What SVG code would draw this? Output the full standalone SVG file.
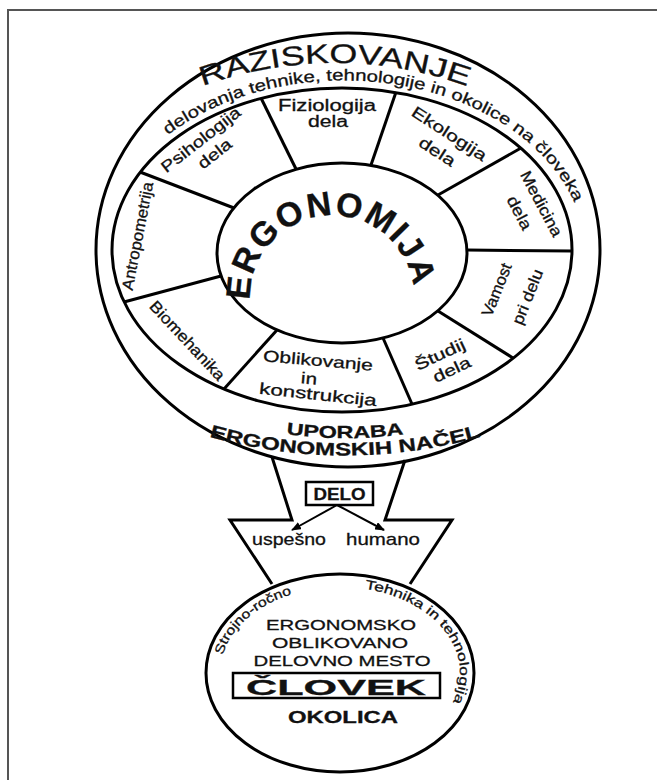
<svg xmlns="http://www.w3.org/2000/svg" width="657" height="780" viewBox="0 0 657 780">
<style>
.s{fill:none;stroke:#000;stroke-width:3}
.t{font-family:"Liberation Sans",Arial,sans-serif;fill:#111;stroke:#111;stroke-width:0.3}
.seg{font-size:16px;text-anchor:middle}
.b{font-weight:bold}
</style>
<defs>
<marker id="ah" markerWidth="10" markerHeight="8" refX="9" refY="4" orient="auto" markerUnits="userSpaceOnUse"><path d="M0,0 L10,4 L0,8 Z" fill="#000"/></marker>
<path id="pRaz" d="M150,110 A388,388 0 0 1 520,110"/>
<path id="pDel" d="M168,135 A242,175 0 0 1 578,212"/>
<path id="pUpo" d="M250,428 A450,450 0 0 0 440,428"/>
<path id="pNac" d="M200,434 A500,500 0 0 0 490,434"/>
<path id="pErg" d="M251,310 A82,82 0 1 1 414,300"/>
<path id="pStr" d="M220,673 A120,86 0 0 1 340,587"/>
<path id="pTeh" d="M340,587 A120,86 0 0 1 460,673 A120,86 0 0 1 447,712"/>
</defs>
<rect width="657" height="780" fill="#fff"/>
<g id="frame" stroke="#555" stroke-width="2" fill="none"><path d="M8,780 V10 H657"/></g>

<g id="connectors">
<path class="s" d="M272,457 L292,520 L230,520 L272,584"/>
<path class="s" d="M405,460 L385,520 L452,520 L410,584"/>
<path d="M337,505 L292,530" stroke="#000" stroke-width="2" fill="none" marker-end="url(#ah)"/>
<path d="M337,505 L384,530" stroke="#000" stroke-width="2" fill="none" marker-end="url(#ah)"/>
</g>

<g id="outer">
<ellipse class="s" cx="348" cy="250" rx="252" ry="217" fill="#fff"/>
<text class="t" font-size="27" text-anchor="middle"><textPath href="#pRaz" startOffset="50%" textLength="270" lengthAdjust="spacingAndGlyphs">RAZISKOVANJE</textPath></text>
<text class="t" font-size="16"><textPath href="#pDel" startOffset="0" textLength="462" lengthAdjust="spacingAndGlyphs">delovanja tehnike, tehnologije in okolice na človeka</textPath></text>
<text class="t b" font-size="17" text-anchor="middle"><textPath href="#pUpo" startOffset="50%" textLength="118" lengthAdjust="spacingAndGlyphs">UPORABA</textPath></text>
<text class="t b" font-size="18" text-anchor="middle"><textPath href="#pNac" startOffset="50%" textLength="275" lengthAdjust="spacingAndGlyphs">ERGONOMSKIH NAČEL</textPath></text>
</g>

<g id="ring">
<ellipse class="s" cx="342" cy="250" rx="230" ry="162"/>
<g stroke="#000" stroke-width="3">
<line x1="261" y1="98" x2="296" y2="169"/>
<line x1="396" y1="92" x2="371" y2="165"/>
<line x1="521" y1="148" x2="438" y2="195"/>
<line x1="572" y1="251" x2="467" y2="250"/>
<line x1="513" y1="358" x2="438" y2="311"/>
<line x1="412" y1="404" x2="383" y2="338"/>
<line x1="224" y1="389" x2="277" y2="330"/>
<line x1="124" y1="302" x2="221" y2="276"/>
<line x1="140" y1="172" x2="234" y2="208"/>
</g>
</g>

<g id="seg-fiziologija" class="t seg">
<text x="327" y="111" textLength="98" lengthAdjust="spacingAndGlyphs">Fiziologija</text>
<text x="328" y="127" textLength="40" lengthAdjust="spacingAndGlyphs">dela</text>
</g>
<g id="seg-ekologija" class="t seg">
<text transform="translate(449,134) rotate(33)" y="5" textLength="86" lengthAdjust="spacingAndGlyphs">Ekologija</text>
<text transform="translate(437,152) rotate(33)" y="5" textLength="40" lengthAdjust="spacingAndGlyphs">dela</text>
</g>
<g id="seg-medicina" class="t seg">
<text transform="translate(541,204) rotate(62)" y="5" textLength="72" lengthAdjust="spacingAndGlyphs">Medicina</text>
<text transform="translate(519,213) rotate(62)" y="5" textLength="36" lengthAdjust="spacingAndGlyphs">dela</text>
</g>
<g id="seg-vamost" class="t seg">
<text transform="translate(497,290) rotate(-68)" y="5" textLength="56" lengthAdjust="spacingAndGlyphs">Vamost</text>
<text transform="translate(528,297) rotate(-68)" y="5" textLength="58" lengthAdjust="spacingAndGlyphs">pri delu</text>
</g>
<g id="seg-studij" class="t seg">
<text transform="translate(440,355) rotate(-25)" y="5" textLength="54" lengthAdjust="spacingAndGlyphs">Študij</text>
<text transform="translate(452,370) rotate(-25)" y="5" textLength="40" lengthAdjust="spacingAndGlyphs">dela</text>
</g>
<g id="seg-oblikovanje" class="t seg">
<text transform="translate(318,361) rotate(5)" y="5" textLength="110" lengthAdjust="spacingAndGlyphs">Oblikovanje</text>
<text transform="translate(309,379) rotate(5)" y="5" textLength="16" lengthAdjust="spacingAndGlyphs">in</text>
<text transform="translate(318,395) rotate(6)" y="5" textLength="118" lengthAdjust="spacingAndGlyphs">konstrukcija</text>
</g>
<g id="seg-biomehanika" class="t seg">
<text transform="translate(187,341) rotate(47)" y="5" textLength="102" lengthAdjust="spacingAndGlyphs">Biomehanika</text>
</g>
<g id="seg-antropometrija" class="t seg">
<text transform="translate(138,236) rotate(-79)" y="5" textLength="110" lengthAdjust="spacingAndGlyphs">Antropometrija</text>
</g>
<g id="seg-psihologija" class="t seg">
<text transform="translate(201,140) rotate(-38)" y="5" textLength="96" lengthAdjust="spacingAndGlyphs">Psihologija</text>
<text transform="translate(215,154) rotate(-38)" y="5" textLength="38" lengthAdjust="spacingAndGlyphs">dela</text>
</g>

<g id="ergonomija">
<ellipse class="s" cx="342" cy="253" rx="125" ry="90" fill="#fff"/>
<text class="t b" font-size="34" stroke-width="1"><textPath href="#pErg" startOffset="10" textLength="248" lengthAdjust="spacing">ERGONOMIJA</textPath></text>
</g>

<g id="delo">
<rect x="306" y="482" width="67" height="23" fill="#fff" stroke="#000" stroke-width="2.5"/>
<text class="t b" x="339.5" y="500" font-size="17" text-anchor="middle" textLength="52" lengthAdjust="spacingAndGlyphs">DELO</text>
</g>
<g id="uspesno"><text class="t" x="289" y="545" font-size="17" text-anchor="middle" textLength="74" lengthAdjust="spacingAndGlyphs">uspešno</text></g>
<g id="humano"><text class="t" x="383" y="545" font-size="17" text-anchor="middle" textLength="74" lengthAdjust="spacingAndGlyphs">humano</text></g>

<g id="clovek">
<ellipse class="s" cx="340" cy="673" rx="134" ry="99" fill="#fff"/>
<text class="t" font-size="13"><textPath href="#pStr" startOffset="18" textLength="96" lengthAdjust="spacingAndGlyphs">Strojno-ročno</textPath></text>
<text class="t" font-size="13"><textPath href="#pTeh" startOffset="25" textLength="168" lengthAdjust="spacingAndGlyphs">Tehnika in tehnologija</textPath></text>
<text class="t" x="341" y="630" font-size="15" text-anchor="middle" textLength="150" lengthAdjust="spacingAndGlyphs">ERGONOMSKO</text>
<text class="t" x="340" y="648" font-size="15" text-anchor="middle" textLength="136" lengthAdjust="spacingAndGlyphs">OBLIKOVANO</text>
<text class="t" x="342" y="666" font-size="15" text-anchor="middle" textLength="177" lengthAdjust="spacingAndGlyphs">DELOVNO MESTO</text>
<rect x="233" y="673" width="207" height="25" fill="none" stroke="#000" stroke-width="2.5"/>
<text class="t b" x="336" y="695" font-size="22" text-anchor="middle" textLength="180" lengthAdjust="spacingAndGlyphs">ČLOVEK</text>
<text class="t b" x="343" y="723" font-size="17" text-anchor="middle" textLength="110" lengthAdjust="spacingAndGlyphs">OKOLICA</text>
</g>
</svg>
